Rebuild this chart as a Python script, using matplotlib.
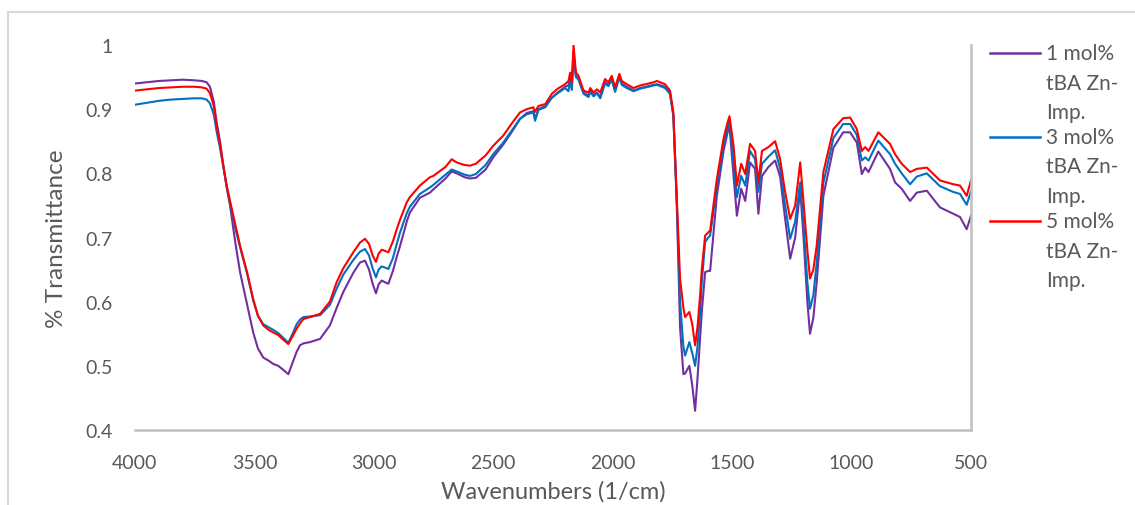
import numpy as np
import matplotlib
matplotlib.use("Agg")
import matplotlib.pyplot as plt
from matplotlib.lines import Line2D

plt.rcParams['font.family'] = ['Lato', 'DejaVu Sans']

# wavenumber grid (1/cm) and % transmittance
wn = [4000, 3950, 3900, 3850, 3800, 3750, 3720, 3700, 3686, 3670, 3658, 3644, 3630, 3616,
      3602, 3581, 3560, 3530, 3505, 3485, 3463, 3440, 3421, 3400, 3380, 3358, 3340, 3323,
      3309, 3295, 3267, 3225, 3184, 3156, 3128, 3086, 3058, 3037, 3020, 3005, 2991, 2980,
      2967, 2952, 2939, 2920, 2904, 2890, 2862, 2849, 2807, 2765, 2751, 2700, 2674, 2653,
      2620, 2597, 2573, 2532, 2500, 2458, 2420, 2388, 2360, 2332, 2325, 2311, 2282, 2255,
      2230, 2199, 2185, 2178, 2171, 2164, 2154, 2143, 2122, 2101, 2094, 2080, 2066, 2052,
      2032, 2018, 2004, 1990, 1972, 1962, 1941, 1913, 1885, 1850, 1829, 1815, 1781, 1760,
      1746, 1732, 1718, 1704, 1697, 1679, 1667, 1655, 1645, 1634, 1627, 1613, 1600, 1592,
      1564, 1536, 1520, 1511, 1494, 1480, 1462, 1445, 1425, 1404, 1390, 1375, 1348, 1320,
      1299, 1280, 1257, 1236, 1215, 1201, 1185, 1174, 1160, 1146, 1118, 1076, 1035, 1006,
      978, 957, 943, 929, 888, 839, 818, 790, 755, 727, 685, 630, 574, 546, 518, 500]

t_1mol = [0.940, 0.942, 0.944, 0.945, 0.946, 0.945, 0.944, 0.942, 0.935, 0.912, 0.880, 0.850, 0.812, 0.778,
          0.750, 0.695, 0.646, 0.595, 0.552, 0.527, 0.513, 0.508, 0.503, 0.500, 0.494, 0.487, 0.505, 0.522,
          0.532, 0.535, 0.537, 0.542, 0.563, 0.590, 0.615, 0.645, 0.661, 0.664, 0.650, 0.628, 0.613, 0.627,
          0.633, 0.630, 0.628, 0.648, 0.670, 0.687, 0.725, 0.739, 0.762, 0.770, 0.775, 0.792, 0.803, 0.800,
          0.794, 0.792, 0.793, 0.806, 0.825, 0.845, 0.866, 0.885, 0.894, 0.897, 0.885, 0.900, 0.905, 0.918,
          0.926, 0.935, 0.937, 0.950, 0.935, 0.990, 0.952, 0.948, 0.926, 0.921, 0.929, 0.922, 0.926, 0.919,
          0.942, 0.938, 0.948, 0.929, 0.951, 0.940, 0.935, 0.929, 0.933, 0.936, 0.938, 0.939, 0.935, 0.925,
          0.890, 0.755, 0.560, 0.487, 0.488, 0.500, 0.470, 0.430, 0.480, 0.545, 0.584, 0.646, 0.648, 0.648,
          0.765, 0.835, 0.862, 0.874, 0.796, 0.734, 0.776, 0.757, 0.817, 0.807, 0.737, 0.796, 0.810, 0.820,
          0.795, 0.735, 0.667, 0.700, 0.776, 0.700, 0.600, 0.550, 0.575, 0.630, 0.765, 0.840, 0.864, 0.864,
          0.848, 0.799, 0.809, 0.802, 0.834, 0.807, 0.786, 0.776, 0.757, 0.770, 0.773, 0.747, 0.737, 0.732, 0.713, 0.734]

t_3mol = [0.907, 0.910, 0.913, 0.915, 0.916, 0.917, 0.917, 0.915, 0.909, 0.892, 0.865, 0.840, 0.810, 0.780,
          0.753, 0.716, 0.685, 0.643, 0.602, 0.578, 0.565, 0.560, 0.556, 0.551, 0.544, 0.536, 0.550, 0.565,
          0.572, 0.576, 0.577, 0.579, 0.595, 0.620, 0.642, 0.665, 0.678, 0.682, 0.672, 0.652, 0.638, 0.650,
          0.655, 0.653, 0.651, 0.668, 0.690, 0.708, 0.738, 0.748, 0.768, 0.778, 0.782, 0.798, 0.806, 0.803,
          0.798, 0.796, 0.799, 0.813, 0.830, 0.848, 0.868, 0.885, 0.892, 0.895, 0.882, 0.899, 0.903, 0.918,
          0.925, 0.933, 0.928, 0.945, 0.930, 0.985, 0.950, 0.946, 0.924, 0.919, 0.927, 0.920, 0.925, 0.917,
          0.940, 0.936, 0.946, 0.927, 0.950, 0.938, 0.933, 0.928, 0.932, 0.935, 0.937, 0.938, 0.933, 0.924,
          0.890, 0.760, 0.600, 0.530, 0.516, 0.537, 0.520, 0.500, 0.530, 0.584, 0.630, 0.693, 0.700, 0.703,
          0.780, 0.845, 0.870, 0.882, 0.817, 0.763, 0.796, 0.781, 0.835, 0.822, 0.771, 0.815, 0.826, 0.836,
          0.808, 0.755, 0.698, 0.725, 0.786, 0.720, 0.630, 0.589, 0.610, 0.660, 0.785, 0.855, 0.877, 0.877,
          0.860, 0.820, 0.825, 0.820, 0.851, 0.830, 0.815, 0.800, 0.783, 0.795, 0.800, 0.780, 0.771, 0.768, 0.751, 0.772]

t_5mol = [0.929, 0.931, 0.933, 0.934, 0.935, 0.935, 0.934, 0.932, 0.925, 0.905, 0.874, 0.845, 0.812, 0.781,
          0.757, 0.722, 0.687, 0.645, 0.604, 0.578, 0.563, 0.556, 0.552, 0.548, 0.541, 0.534, 0.546, 0.558,
          0.566, 0.573, 0.576, 0.581, 0.600, 0.630, 0.652, 0.677, 0.692, 0.698, 0.690, 0.672, 0.662, 0.675,
          0.681, 0.679, 0.677, 0.694, 0.713, 0.728, 0.755, 0.763, 0.781, 0.794, 0.796, 0.810, 0.822, 0.817,
          0.813, 0.812, 0.815, 0.828, 0.843, 0.859, 0.879, 0.895, 0.900, 0.903, 0.896, 0.905, 0.908, 0.924,
          0.932, 0.939, 0.944, 0.957, 0.942, 1.000, 0.957, 0.952, 0.929, 0.926, 0.933, 0.926, 0.931, 0.926,
          0.947, 0.942, 0.952, 0.934, 0.955, 0.944, 0.939, 0.933, 0.937, 0.940, 0.942, 0.944, 0.939, 0.929,
          0.895, 0.765, 0.636, 0.590, 0.576, 0.584, 0.565, 0.532, 0.560, 0.610, 0.650, 0.703, 0.708, 0.711,
          0.791, 0.854, 0.878, 0.889, 0.843, 0.781, 0.815, 0.799, 0.846, 0.835, 0.786, 0.835, 0.841, 0.850,
          0.822, 0.775, 0.729, 0.750, 0.817, 0.755, 0.680, 0.636, 0.650, 0.687, 0.802, 0.869, 0.886, 0.887,
          0.869, 0.835, 0.841, 0.835, 0.864, 0.846, 0.830, 0.815, 0.802, 0.807, 0.809, 0.789, 0.783, 0.781, 0.765, 0.789]

labels = ['1 mol%\ntBA Zn-\nImp.', '3 mol%\ntBA Zn-\nImp.', '5 mol%\ntBA Zn-\nImp.']
colors = ['#7030A0', '#0070C0', '#FF0000']
xticks = [4000, 3500, 3000, 2500, 2000, 1500, 1000, 500]
yticks = [0.4, 0.5, 0.6, 0.7, 0.8, 0.9, 1.0]
ytick_labels = ['0.4', '0.5', '0.6', '0.7', '0.8', '0.9', '1']

txt = '#595959'
grey = '#bfbfbf'

fig = plt.figure(figsize=(11.35, 5.06), dpi=100)
ax = fig.add_axes([0.1189, 0.1482, 0.7366, 0.7608])

for t, c in zip([t_1mol, t_3mol, t_5mol], colors):
    ax.plot(wn, t, color=c, lw=1.5, solid_joinstyle='round')

ax.set_xlim(4000, 500)
ax.set_ylim(0.4, 1.0)
ax.set_xticks(xticks)
ax.set_yticks(yticks)
ax.set_yticklabels(ytick_labels)
ax.tick_params(length=0, labelsize=14, labelcolor=txt)
ax.tick_params(axis='x', pad=17)
ax.tick_params(axis='y', pad=16)

for s in ['top', 'left']:
    ax.spines[s].set_visible(False)
for s in ['bottom', 'right']:
    ax.spines[s].set_color(grey)
    ax.spines[s].set_linewidth(1.8)

ax.set_xlabel('Wavenumbers (1/cm)', fontsize=17, color=txt, labelpad=7)
ax.set_ylabel('% Transmittance', fontsize=17.5, color=txt, labelpad=13)

# legend drawn by hand so the line sits on the first text row
W, H = 1135.0, 506.0
for i, (lab, c) in enumerate(zip(labels, colors)):
    y = 54 + i * 84
    fig.add_artist(Line2D([990 / W, 1040 / W], [1 - y / H, 1 - y / H], color=c, lw=1.8))
    for k, row in enumerate(lab.split('\n')):
        fig.text(1046 / W, 1 - (y + k * 29.5) / H, row, fontsize=15, color=txt,
                 va='center', ha='left')

# light outer frame (left and top edges visible in the original crop)
fig.add_artist(Line2D([8 / W, 8 / W], [0, 1 - 13 / H], color='#d9d9d9', lw=1.5))
fig.add_artist(Line2D([8 / W, 1], [1 - 13 / H, 1 - 13 / H], color='#d9d9d9', lw=1.5))

fig.savefig('out.png', dpi=100)
